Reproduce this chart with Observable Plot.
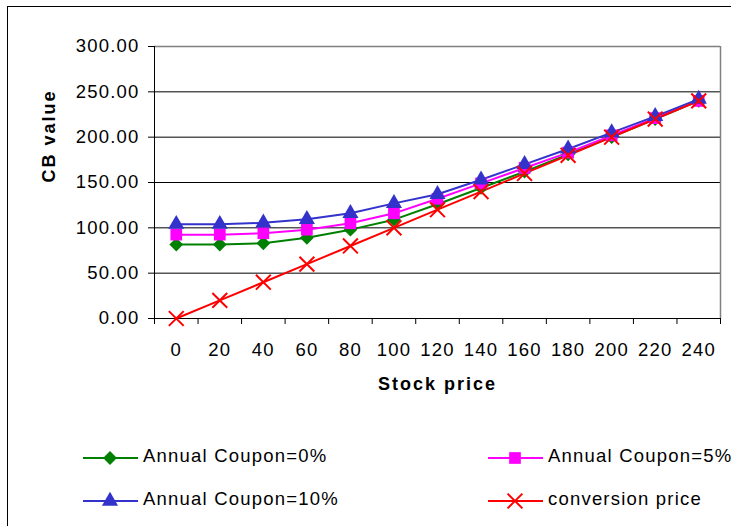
<!DOCTYPE html>
<html>
<head>
<meta charset="utf-8">
<script src="https://cdn.jsdelivr.net/npm/d3@7"></script>
<script src="https://cdn.jsdelivr.net/npm/@observablehq/plot@0.6"></script>
<style>
  html, body { margin: 0; padding: 0; background: #fff; }
  #wrap { position: relative; width: 731px; height: 526px; overflow: hidden; background: #fff;
          font-family: 'Liberation Sans', Arial, sans-serif; }
  #frame { position: absolute; left: 7px; top: 6px; width: 900px; height: 900px;
           border-left: 1px solid #000; border-top: 1px solid #000; }
  #chart { position: absolute; left: 0; top: 0; }
  .leg { position: absolute; display: flex; align-items: center; height: 24px;
         font-size: 18.5px; letter-spacing: 1.2px; color: #000; white-space: nowrap; }
  .leg svg { display: block; margin-right: 5px; }
</style>
</head>
<body>
<div id="wrap">
  <div id="frame"></div>
  <div id="chart"></div>
  <div id="legend"></div>
</div>
<script>
// ---- data ----
const stockPrice = [0, 20, 40, 60, 80, 100, 120, 140, 160, 180, 200, 220, 240];
const coupon0    = [81.5, 81.5, 83, 89, 98, 109, 126, 144, 162, 181, 200, 220, 240];
const coupon5    = [92.5, 92.5, 94, 98, 105, 116, 132, 149, 166, 183, 202, 221, 240];
const coupon10   = [104, 104, 105.5, 109.5, 116, 127, 137, 153, 170, 187, 205, 223, 242];
const conversion = [0, 20, 40, 60, 80, 100, 120, 140, 160, 180, 200, 220, 240];
const yTicks = [0, 50, 100, 150, 200, 250, 300];
const xBoundaries = [-10, 10, 30, 50, 70, 90, 110, 130, 150, 170, 190, 210, 230, 250];

const seriesDefs = [
  {name: "Annual Coupon=0%",  values: coupon0,    color: "#008000", symbol: "diamond2", r: 6.2, stroke: false},
  {name: "Annual Coupon=5%",  values: coupon5,    color: "#FF00FF", symbol: "square",   r: 6.6, stroke: false},
  {name: "Annual Coupon=10%", values: coupon10,   color: "#3333CC", symbol: "triangle", r: 6.0, stroke: false},
  {name: "conversion price",  values: conversion, color: "#FF0000", symbol: "times",    r: 6.8, stroke: true}
];
const series = seriesDefs.map(s => ({...s, data: stockPrice.map((p, i) => ({price: p, value: s.values[i]}))}));

const marks = [
  Plot.gridY(yTicks.filter(t => t > 0 && t < 300), {stroke: "#000", strokeOpacity: 1, strokeWidth: 1}),
  Plot.ruleY([300], {stroke: "#808080", strokeWidth: 1.5}),
  Plot.ruleX([250], {stroke: "#808080", strokeWidth: 1.5}),
  Plot.ruleX([-10], {stroke: "#000", strokeWidth: 1}),
  Plot.ruleY([0], {stroke: "#000", strokeWidth: 1}),
  Plot.axisY({ticks: yTicks, tickSize: 6, tickPadding: 9, tickFormat: d => d.toFixed(2), label: null}),
  Plot.axisX({ticks: xBoundaries, tickSize: 6, tickFormat: () => "", label: null}),
  Plot.axisX({ticks: stockPrice, tickSize: 0, tickPadding: 24, tickFormat: d => String(d), label: null}),
  Plot.text(["Stock price"], {frameAnchor: "bottom", dy: 71, text: d => d, fontWeight: "bold", fontSize: 18}),
  Plot.text(["CB value"], {frameAnchor: "left", dx: -105, rotate: -90, text: d => d, fontWeight: "bold", fontSize: 18})
];
for (const s of series) {
  marks.push(Plot.line(s.data, {x: "price", y: "value", stroke: s.color, strokeWidth: 2}));
}
for (const s of series) {
  if (s.stroke) {
    marks.push(Plot.dot(s.data, {x: "price", y: "value", symbol: s.symbol, r: s.r, stroke: s.color, strokeWidth: 2, fill: "none"}));
  } else {
    marks.push(Plot.dot(s.data, {x: "price", y: "value", symbol: s.symbol, r: s.r, fill: s.color, stroke: "none"}));
  }
}

const chart = Plot.plot({
  width: 731,
  height: 420,
  marginLeft: 154,
  marginRight: 11,
  marginTop: 46,
  marginBottom: 102,
  style: {fontFamily: "'Liberation Sans', Arial, sans-serif", fontSize: "18.5px", letterSpacing: "1.2px", color: "#000", background: "transparent", overflow: "visible"},
  x: {type: "linear", domain: [-10, 250], axis: null},
  y: {type: "linear", domain: [0, 300], axis: null},
  marks
});
d3.select(chart).selectAll("text").filter(function() {
  const t = this.textContent; return t === "Stock price" || t === "CB value";
}).style("letter-spacing", "2px");
document.getElementById("chart").appendChild(chart);

// ---- legend ----
const legendPos = [
  {left: 83,  top: 444},
  {left: 488, top: 444},
  {left: 83,  top: 487},
  {left: 488, top: 487}
];
const symbolMap = {diamond2: d3.symbolDiamond2, square: d3.symbolSquare, triangle: d3.symbolTriangle, times: d3.symbolTimes};
const legend = document.getElementById("legend");
series.forEach((s, i) => {
  const div = document.createElement("div");
  div.className = "leg";
  div.style.left = legendPos[i].left + "px";
  div.style.top = legendPos[i].top + "px";
  const sw = d3.create("svg").attr("width", 55).attr("height", 24).style("overflow", "visible");
  sw.append("line").attr("x1", 0).attr("x2", 55).attr("y1", 14).attr("y2", 14)
    .attr("stroke", s.color).attr("stroke-width", 2);
  const path = d3.symbol(symbolMap[s.symbol], s.r * s.r * Math.PI)();
  const p = sw.append("path").attr("d", path).attr("transform", "translate(27,14)");
  if (s.stroke) p.attr("fill", "none").attr("stroke", s.color).attr("stroke-width", 2);
  else p.attr("fill", s.color);
  div.appendChild(sw.node());
  const span = document.createElement("span");
  span.textContent = s.name;
  div.appendChild(span);
  legend.appendChild(div);
});
</script>
</body>
</html>
